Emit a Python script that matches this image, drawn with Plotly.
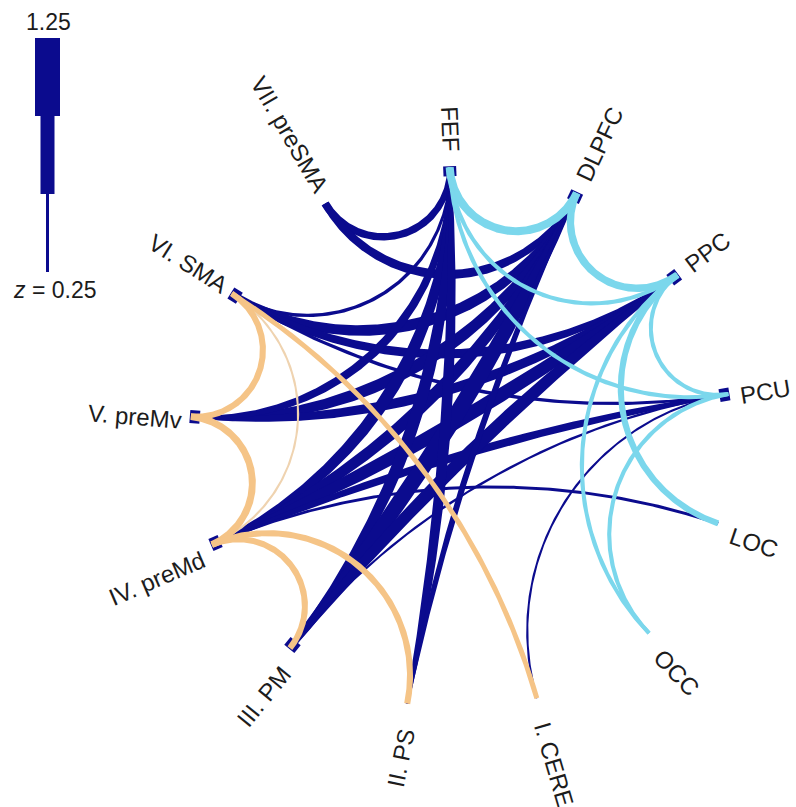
import numpy as np
import plotly.graph_objects as go

# ---------------- data ----------------
regions = ["FEF", "DLPFC", "PPC", "PCU", "LOC", "OCC", "I. CERE", "II. PS",
           "III. PM", "IV. preMd", "V. preMv", "VI. SMA", "VII. preSMA"]

# between-network connections (dark blue), z at source end, middle, target end
cross_src = ["VII. preSMA", "VII. preSMA", "VI. SMA", "VI. SMA", "VI. SMA", "VI. SMA",
             "V. preMv", "V. preMv", "V. preMv",
             "IV. preMd", "IV. preMd", "IV. preMd", "IV. preMd", "IV. preMd",
             "III. PM", "III. PM", "III. PM", "III. PM",
             "II. PS", "II. PS", "I. CERE"]
cross_dst = ["FEF", "DLPFC", "FEF", "DLPFC", "PPC", "PCU",
             "DLPFC", "PPC", "FEF",
             "FEF", "DLPFC", "PPC", "PCU", "LOC",
             "FEF", "DLPFC", "PPC", "PCU",
             "FEF", "DLPFC", "PCU"]
cross_z_src = [0.48, 0.43, 0.27, 0.39, 0.34, 0.25,
               0.25, 0.25, 0.22,
               0.22, 0.22, 0.22, 0.22, 0.22,
               0.30, 0.36, 0.33, 0.20,
               0.25, 0.25, 0.21]
cross_z_mid = [0.45, 0.52, 0.27, 0.62, 0.52, 0.27,
               0.66, 0.57, 0.50,
               0.66, 0.66, 0.75, 0.48, 0.25,
               0.66, 0.86, 0.70, 0.22,
               0.60, 0.39, 0.21]
cross_z_dst = [0.34, 0.25, 0.22, 0.25, 0.22, 0.22,
               0.22, 0.25, 0.25,
               0.25, 0.22, 0.25, 0.25, 0.25,
               0.22, 0.25, 0.22, 0.22,
               0.25, 0.22, 0.21]

# within posterior / oculomotor network (light blue)
post_src = ["FEF", "FEF", "FEF", "DLPFC", "PPC", "PPC", "PPC", "PCU"]
post_dst = ["DLPFC", "PPC", "PCU", "PPC", "PCU", "LOC", "OCC", "OCC"]
post_z = [0.48, 0.30, 0.30, 0.45, 0.30, 0.39, 0.30, 0.30]

# within motor network (orange)
motor_src = ["VI. SMA", "V. preMv", "IV. preMd", "IV. preMd", "VI. SMA"]
motor_dst = ["V. preMv", "IV. preMd", "III. PM", "II. PS", "I. CERE"]
motor_z = [0.39, 0.43, 0.39, 0.39, 0.34]
motor_weak_src = ["VI. SMA"]
motor_weak_dst = ["IV. preMd"]
motor_weak_z = [0.21]

legend_z = [1.25, 0.75, 0.25]

# ---------------- layout constants ----------------
W, H = 796, 807
CX, CY, R = 461, 438, 271
START_ANGLE = 92.4
FONT_SIZE = 24
FONT = "Liberation Sans, Arial, sans-serif"
DARK = "#0b0b8e"
CYAN = "#7bd7ec"
ORANGE = "#f5c487"
ORANGE_LIGHT = "#efd3b0"
# label ring (near end of each label), slightly elliptical
LAB_CX, LAB_CY, LAB_RX, LAB_RY = 463, 443, 281, 292

n_nodes = len(regions)
theta = {name: np.deg2rad(START_ANGLE - i * 360.0 / n_nodes) for i, name in enumerate(regions)}


def width_px(z):
    return max(22.0 * z - 2.5, 1.0)


def geodesic(a, b, n=200):
    P = np.array([np.cos(a), np.sin(a)])
    Q = np.array([np.cos(b), np.sin(b)])
    c = P @ Q
    t = np.linspace(0, 1, n)
    if c < -0.9995:
        return (P[None, :] * (1 - t)[:, None] + Q[None, :] * t[:, None])
    C = (P + Q) / (1 + c)
    r = np.sqrt(max(C @ C - 1, 1e-12))
    fp = np.arctan2(P[1] - C[1], P[0] - C[0])
    fq = np.arctan2(Q[1] - C[1], Q[0] - C[0])
    d = (fq - fp + np.pi) % (2 * np.pi) - np.pi
    f = fp + d * t
    return np.stack([C[0] + r * np.cos(f), C[1] + r * np.sin(f)], axis=1)


def band(a, b, w0, wm, w1):
    pts = geodesic(theta[a], theta[b]) * R
    n = len(pts)
    t = np.linspace(0, 1, n)
    w = np.where(t < 0.5, wm + (w0 - wm) * (1 - 2 * t) ** 2, wm + (w1 - wm) * (2 * t - 1) ** 2)
    tg = np.gradient(pts, axis=0)
    tg /= np.linalg.norm(tg, axis=1)[:, None]
    nv = np.stack([-tg[:, 1], tg[:, 0]], axis=1)
    left = pts + nv * (w / 2)[:, None]
    right = pts - nv * (w / 2)[:, None]
    poly = np.concatenate([left, right[::-1], left[:1]])
    return poly[:, 0], poly[:, 1]


fig = go.Figure()


def add_poly(x, y, color):
    fig.add_trace(go.Scatter(x=x, y=y, mode="lines", fill="toself", fillcolor=color,
                             line=dict(width=0, color=color), hoverinfo="skip",
                             showlegend=False))


# node stubs (short radial ticks) where several dark connections meet
deg_count = {name: 0 for name in regions}
for s, d in zip(cross_src, cross_dst):
    deg_count[s] += 1
    deg_count[d] += 1
for name in regions:
    if deg_count[name] < 3:
        continue
    u = np.array([np.cos(theta[name]), np.sin(theta[name])])
    p = np.array([-u[1], u[0]])
    r0, r1, hw = R - 9, R + 1, 6.5
    corners = [u * r0 + p * hw, u * r1 + p * hw, u * r1 - p * hw, u * r0 - p * hw, u * r0 + p * hw]
    add_poly([c[0] for c in corners], [c[1] for c in corners], DARK)

for s, d, z0, zm, z1 in zip(cross_src, cross_dst, cross_z_src, cross_z_mid, cross_z_dst):
    x, y = band(s, d, width_px(z0), width_px(zm), width_px(z1))
    add_poly(x, y, DARK)

for s, d, z in zip(motor_weak_src, motor_weak_dst, motor_weak_z):
    x, y = band(s, d, width_px(z), width_px(z), width_px(z))
    add_poly(x, y, ORANGE_LIGHT)

for s, d, z in zip(post_src, post_dst, post_z):
    x, y = band(s, d, width_px(z), width_px(z), width_px(z))
    add_poly(x, y, CYAN)

for s, d, z in zip(motor_src, motor_dst, motor_z):
    x, y = band(s, d, width_px(z), width_px(z), width_px(z))
    add_poly(x, y, ORANGE)

# ---------------- labels ----------------
CHAR_W = {' ': 278, '.': 278, 'I': 278, 'V': 667, 'p': 556, 'r': 333, 'e': 556, 'S': 667,
          'M': 833, 'A': 667, 'F': 611, 'E': 667, 'D': 722, 'L': 556, 'P': 667, 'C': 722,
          'U': 722, 'O': 778, 'R': 722, 'v': 500, 'd': 556}


def text_len(s):
    return sum(CHAR_W.get(ch, 600) for ch in s) * FONT_SIZE / 1000.0


annotations = []
for name in regions:
    th = theta[name]
    deg = np.rad2deg(th)
    L = text_len(name)
    u = np.array([np.cos(th), np.sin(th)])
    near = np.array([LAB_CX - CX + LAB_RX * u[0], (CY - LAB_CY) + LAB_RY * u[1]])
    ctr = near + u * L / 2
    if -90 <= deg <= 90:
        ang = -deg
    else:
        ang = 180 - deg
    ang = (ang + 180) % 360 - 180
    annotations.append(dict(x=ctr[0], y=ctr[1], text=name,
                            showarrow=False, textangle=ang, xanchor="center", yanchor="middle",
                            font=dict(size=FONT_SIZE, color="#1c1c1c", family=FONT)))


# ---------------- width key (top-left) ----------------
def px2d(px, py):
    return px - CX, CY - py


shapes = []
seg_h = 78
top = 38
key_x = 47.5
for i, z in enumerate(legend_z):
    w = width_px(z)
    x0, y0 = px2d(key_x - w / 2, top + i * seg_h)
    x1, y1 = px2d(key_x + w / 2, top + (i + 1) * seg_h)
    shapes.append(dict(type="rect", x0=x0, x1=x1, y0=y0, y1=y1, xref="x", yref="y",
                       fillcolor=DARK, line=dict(width=0)))

lx, ly = px2d(48, 22)
annotations.append(dict(x=lx, y=ly, text=f"{legend_z[0]:.2f}", showarrow=False,
                        xanchor="center", yanchor="middle",
                        font=dict(size=FONT_SIZE - 1, color="#1c1c1c", family=FONT)))
lx, ly = px2d(54, 290)
annotations.append(dict(x=lx, y=ly, text=f"<i>z</i> = {legend_z[-1]:.2f}", showarrow=False,
                        xanchor="center", yanchor="middle",
                        font=dict(size=FONT_SIZE - 1, color="#1c1c1c", family=FONT)))

fig.update_layout(
    width=W, height=H, autosize=False,
    margin=dict(l=0, r=0, t=0, b=0),
    paper_bgcolor="white", plot_bgcolor="white",
    xaxis=dict(range=[-CX, W - CX], visible=False, fixedrange=True),
    yaxis=dict(range=[-(H - CY), CY], visible=False, fixedrange=True),
    annotations=annotations, shapes=shapes, showlegend=False,
)

fig.write_html("out.html", config={"displayModeBar": False},
               post_script="document.body.style.margin='0px';document.body.style.overflow='hidden';")
